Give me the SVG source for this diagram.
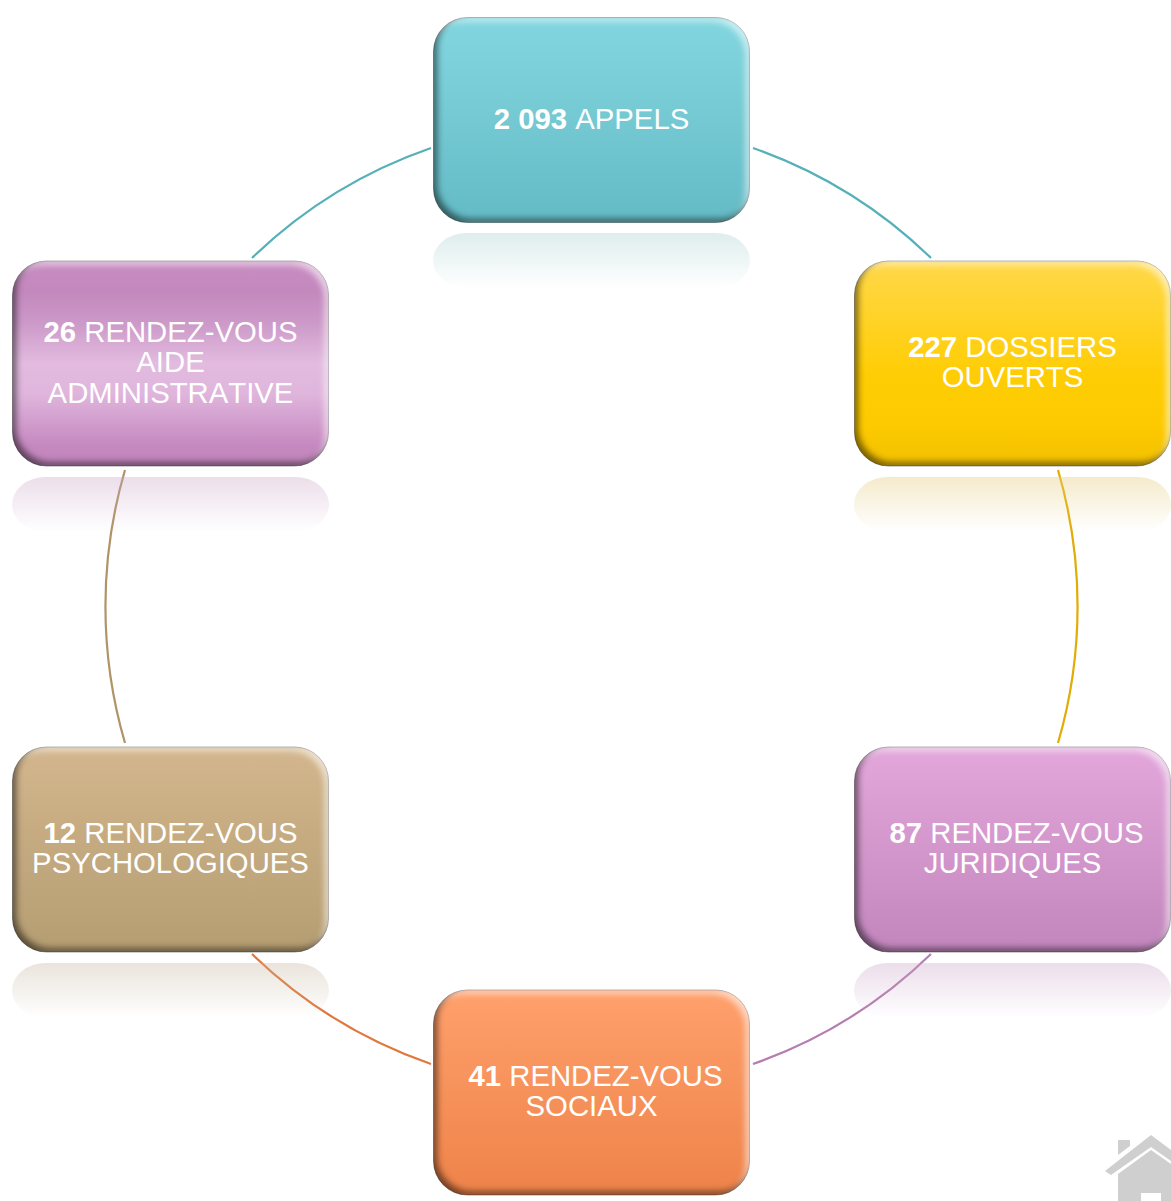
<svg xmlns="http://www.w3.org/2000/svg" width="1171" height="1201" viewBox="0 0 1171 1201">
<defs>
<linearGradient id="gTeal" x1="0" y1="0" x2="0" y2="1"><stop offset="0" stop-color="#80d6e0"/><stop offset="0.2" stop-color="#7dd1db"/><stop offset="1" stop-color="#64bbc5"/></linearGradient>
<linearGradient id="gYellow" x1="0" y1="0" x2="0" y2="1"><stop offset="0" stop-color="#ffd84a"/><stop offset="0.55" stop-color="#ffcd05"/><stop offset="0.8" stop-color="#fdca00"/><stop offset="1" stop-color="#f2c000"/></linearGradient>
<linearGradient id="gPlumMid" x1="0" y1="0" x2="0" y2="1"><stop offset="0" stop-color="#c88cc2"/><stop offset="0.15" stop-color="#c388bd"/><stop offset="0.3" stop-color="#cc99c8"/><stop offset="0.5" stop-color="#e2bbdf"/><stop offset="0.65" stop-color="#dfb5dc"/><stop offset="0.9" stop-color="#c589c0"/><stop offset="1" stop-color="#c085ba"/></linearGradient>
<linearGradient id="gPlum" x1="0" y1="0" x2="0" y2="1"><stop offset="0" stop-color="#e3a7db"/><stop offset="1" stop-color="#c286bd"/></linearGradient>
<linearGradient id="gTan" x1="0" y1="0" x2="0" y2="1"><stop offset="0" stop-color="#d3b68d"/><stop offset="1" stop-color="#b59d72"/></linearGradient>
<linearGradient id="gOrange" x1="0" y1="0" x2="0" y2="1"><stop offset="0" stop-color="#ffa06c"/><stop offset="1" stop-color="#ee8349"/></linearGradient>
<filter id="bevel" x="-3%" y="-3%" width="106%" height="106%" color-interpolation-filters="sRGB">
<feComponentTransfer in="SourceAlpha" result="inv"><feFuncA type="table" tableValues="1 0"/></feComponentTransfer>
<feOffset in="inv" dx="-4" dy="4" result="o1"/>
<feGaussianBlur in="o1" stdDeviation="3" result="b1"/>
<feFlood flood-color="#fff" flood-opacity="0.6"/>
<feComposite in2="b1" operator="in"/>
<feComposite in2="SourceAlpha" operator="in" result="hi"/>
<feOffset in="inv" dx="4" dy="-4" result="o2"/>
<feGaussianBlur in="o2" stdDeviation="3" result="b2"/>
<feFlood flood-color="#000" flood-opacity="0.5"/>
<feComposite in2="b2" operator="in"/>
<feComposite in2="SourceAlpha" operator="in" result="lo"/>
<feMerge><feMergeNode in="SourceGraphic"/><feMergeNode in="hi"/><feMergeNode in="lo"/></feMerge>
</filter>
<linearGradient id="rTeal" x1="0" y1="0" x2="0" y2="1"><stop offset="0" stop-color="#a9d0d2" stop-opacity="0.38"/><stop offset="1" stop-color="#a9d0d2" stop-opacity="0"/></linearGradient>
<linearGradient id="rYellow" x1="0" y1="0" x2="0" y2="1"><stop offset="0" stop-color="#e6cf85" stop-opacity="0.42"/><stop offset="1" stop-color="#e6cf85" stop-opacity="0"/></linearGradient>
<linearGradient id="rPlum" x1="0" y1="0" x2="0" y2="1"><stop offset="0" stop-color="#c9a3c6" stop-opacity="0.36"/><stop offset="1" stop-color="#c9a3c6" stop-opacity="0"/></linearGradient>
<linearGradient id="rTan" x1="0" y1="0" x2="0" y2="1"><stop offset="0" stop-color="#c4b49c" stop-opacity="0.36"/><stop offset="1" stop-color="#c4b49c" stop-opacity="0"/></linearGradient>
</defs>
<style>
.box{filter:url(#bevel);stroke:#000;stroke-opacity:.3;stroke-width:1}
.lbl{font-family:"Liberation Sans",Arial,sans-serif;font-size:29.300px;fill:#fff;text-anchor:middle;font-kerning:none}
.b{font-weight:bold}
.arc{fill:none;stroke-width:2.2}
</style>
<g id="connectors">
<path class="arc" stroke="#55b0b8" d="M753 148A486 486 0 0 1 931 258"/>
<path class="arc" stroke="#e2ac06" d="M1058 470A486 486 0 0 1 1058 743"/>
<path class="arc" stroke="#b57db0" d="M931 954A486 486 0 0 1 753 1064"/>
<path class="arc" stroke="#e2773c" d="M431 1064A486 486 0 0 1 252 954"/>
<path class="arc" stroke="#b09468" d="M125 743A486 486 0 0 1 125 470"/>
<path class="arc" stroke="#55b0b8" d="M252 258A486 486 0 0 1 431 148"/>
</g>
<g id="node-appels">
<rect x="433" y="233" width="317" height="55" rx="34" fill="url(#rTeal)"/>
<rect class="box" x="433.500" y="17.500" width="316" height="205" rx="34" fill="url(#gTeal)"/>
<text class="lbl" x="591.500" y="129"><tspan class="b">2 093</tspan> APPELS</text>
</g>
<g id="node-dossiers">
<rect x="854" y="477" width="317" height="55" rx="34" fill="url(#rYellow)"/>
<rect class="box" x="854.500" y="261" width="316" height="205" rx="34" fill="url(#gYellow)"/>
<text class="lbl" x="1012.500" y="357"><tspan class="b">227</tspan> DOSSIERS</text>
<text class="lbl" x="1012.500" y="387">OUVERTS</text>
</g>
<g id="node-juridiques">
<rect x="854" y="963" width="317" height="55" rx="34" fill="url(#rPlum)"/>
<rect class="box" x="854.500" y="747" width="316" height="205" rx="34" fill="url(#gPlum)"/>
<text class="lbl" x="1016.500" y="843"><tspan class="b">87</tspan> RENDEZ-VOUS</text>
<text class="lbl" x="1012.500" y="873">JURIDIQUES</text>
</g>
<g id="node-sociaux">
<rect class="box" x="433.500" y="990" width="316" height="205" rx="34" fill="url(#gOrange)"/>
<text class="lbl" x="595.500" y="1086"><tspan class="b">41</tspan> RENDEZ-VOUS</text>
<text class="lbl" x="591.500" y="1116">SOCIAUX</text>
</g>
<g id="node-psychologiques">
<rect x="12" y="963" width="317" height="55" rx="34" fill="url(#rTan)"/>
<rect class="box" x="12.500" y="747" width="316" height="205" rx="34" fill="url(#gTan)"/>
<text class="lbl" x="170.500" y="843"><tspan class="b">12</tspan> RENDEZ-VOUS</text>
<text class="lbl" x="170.500" y="873">PSYCHOLOGIQUES</text>
</g>
<g id="node-administrative">
<rect x="12" y="477" width="317" height="55" rx="34" fill="url(#rPlum)"/>
<rect class="box" x="12.500" y="261" width="316" height="205" rx="34" fill="url(#gPlumMid)"/>
<text class="lbl" x="170.500" y="342"><tspan class="b">26</tspan> RENDEZ-VOUS</text>
<text class="lbl" x="170.500" y="372">AIDE</text>
<text class="lbl" x="170.500" y="403">ADMINISTRATIVE</text>
</g>
<g id="icon-home" fill="#cfcfcf">
<polygon points="1118,1140 1130,1140 1130,1146 1118,1155"/>
<polygon points="1105,1171 1151,1135 1171,1150 1171,1161 1151,1147 1111,1175"/>
<polygon points="1118,1174 1151,1150 1171,1164 1171,1201 1118,1201"/>
<rect x="1141" y="1193" width="20" height="8" fill="#fff"/>
</g>
</svg>
